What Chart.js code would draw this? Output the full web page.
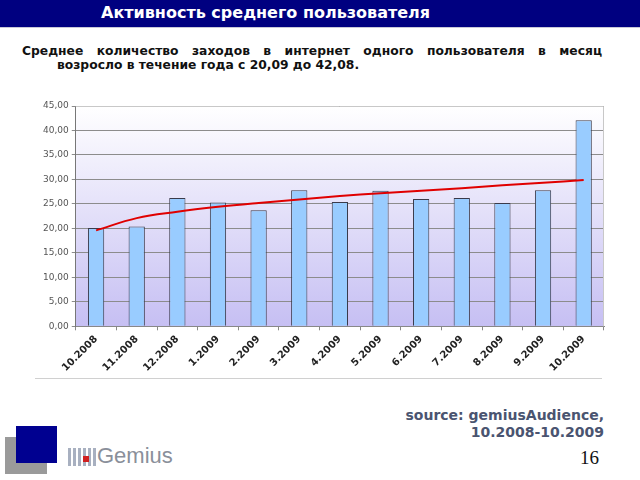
<!DOCTYPE html>
<html>
<head>
<meta charset="utf-8">
<script src="https://cdn.jsdelivr.net/npm/chart.js@4"></script>
<style>
  body { margin: 0; width: 640px; height: 480px; background: #fff; position: relative; overflow: hidden; font-family: "DejaVu Sans", Verdana, sans-serif; }
  #header { position: absolute; left: 0; top: 0; width: 640px; height: 27px; background: #000080; border-bottom: 1px solid #c8c8d8; }
  #header span { position: absolute; left: 101px; top: 3px; color: #fff; font-weight: bold; font-size: 16px; }
  #sub { position: absolute; left: 22px; top: 44px; width: 580px; font-size: 12.3px; font-weight: bold; color: #111; line-height: 15px; text-align: justify; text-align-last: justify; }
  #sub2 { position: absolute; left: 57px; top: 58px; font-size: 12.3px; font-weight: bold; color: #111; }
  #wrap { position: absolute; left: 30px; top: 92px; width: 580px; height: 285px; }
  #line { position: absolute; left: 35px; top: 378px; width: 567px; height: 1px; background: #d0d0d0; }
  #src { position: absolute; right: 36px; top: 407px; text-align: right; font-size: 14px; font-weight: bold; color: #4a5470; line-height: 17px; }
  #page { position: absolute; left: 580px; top: 447px; font-family: "Liberation Serif", serif; font-size: 19px; color: #111; }
  #sq1 { position: absolute; left: 5px; top: 437px; width: 42px; height: 37px; background: #9a9a9a; }
  #sq2 { position: absolute; left: 16px; top: 426px; width: 41px; height: 37px; background: #000090; }
  #logo { position: absolute; left: 97px; top: 443px; font-family: "Liberation Sans", Arial, sans-serif; font-size: 22px; color: #8a8f9a; }
  #dots { position: absolute; left: 68px; top: 448px; width: 28px; height: 18px; background: repeating-linear-gradient(90deg, #a8b0c0 0 3px, #fff 3px 5px); }
  #dots i { position: absolute; left: 15px; top: 8px; width: 6px; height: 6px; background: #d02020; }
</style>
</head>
<body>
<div id="header"><span>Активность среднего пользователя</span></div>
<div id="sub">Среднее количество заходов в интернет одного пользователя в месяц</div>
<div id="sub2">возросло в течение года с 20,09 до 42,08.</div>
<div id="wrap"><canvas id="myChart"></canvas></div>
<div id="line"></div>
<div id="src">source: gemiusAudience,<br>10.2008-10.2009</div>
<div id="page">16</div>
<div id="sq1"></div>
<div id="sq2"></div>
<div id="dots"><i></i></div>
<div id="logo">Gemius</div>

<script>
// Месяцы
const meses = ['10.2008', '11.2008', '12.2008', '1.2009', '2.2009', '3.2009', '4.2009',
               '5.2009', '6.2009', '7.2009', '8.2009', '9.2009', '10.2009'];

// Среднее количество заходов
const valores = [20.09, 20.4, 26.2, 25.3, 23.7, 27.8, 25.4, 27.7, 26.0, 26.2, 25.2, 27.8, 42.08];

// Линия тренда
const tendencia = [19.6, 22.1, 23.4, 24.4, 25.2, 25.9, 26.6, 27.2, 27.7, 28.2, 28.8, 29.3, 29.9];

// Подписи оси Y
const yTicks = [0, 5, 10, 15, 20, 25, 30, 35, 40, 45];

// Фон области графика: градиент и рамка
const fundo = {
    id: 'fundo',
    beforeDraw(chart) {
        const a = chart.chartArea;
        const c = chart.ctx;
        const g = c.createLinearGradient(0, a.top, 0, a.bottom);
        g.addColorStop(0, '#ffffff');
        g.addColorStop(1, '#c6bff3');
        c.save();
        c.fillStyle = g;
        c.fillRect(a.left, a.top, a.right - a.left, a.bottom - a.top);
        c.restore();
    },
    afterDraw(chart) {
        const a = chart.chartArea;
        const c = chart.ctx;
        c.save();
        c.strokeStyle = '#c8c8c8';
        c.lineWidth = 1;
        c.beginPath();
        c.moveTo(a.left, a.top + 0.5);
        c.lineTo(a.right - 0.5, a.top + 0.5);
        c.lineTo(a.right - 0.5, a.bottom);
        c.stroke();
        c.restore();
    }
};

var ctx = document.getElementById('myChart');
var myChart = new Chart(ctx, {
    data: {
        labels: meses,
        datasets: [{
            type: 'line',
            data: tendencia,
            borderColor: '#e00000',
            borderWidth: 2,
            pointRadius: 0,
            tension: 0.4,
            order: 0
        }, {
            type: 'bar',
            data: valores,
            backgroundColor: '#99ccff',
            borderColor: '#3a3a4a',
            borderWidth: 1,
            barPercentage: 0.4,
            categoryPercentage: 1,
            order: 1
        }]
    },
    options: {
        responsive: true,
        maintainAspectRatio: false,
        animation: false,
        layout: { padding: { top: 14, right: 6, left: 10, bottom: 0 } },
        plugins: { legend: { display: false }, tooltip: { enabled: false } },
        scales: {
            x: {
                offset: true,
                grid: { display: true, drawOnChartArea: false, tickLength: 4, color: '#888', offset: true },
                border: { color: '#888' },
                ticks: {
                    maxRotation: 45, minRotation: 45, autoSkip: false,
                    color: '#222',
                    font: { family: 'DejaVu Sans', size: 10, weight: 'bold' }
                }
            },
            y: {
                min: 0, max: 45,
                afterBuildTicks: axis => { axis.ticks = yTicks.map(v => ({ value: v })); },
                grid: { color: '#8c8c8c', tickLength: 4 },
                border: { color: '#777' },
                ticks: {
                    color: '#555',
                    font: { family: 'DejaVu Sans', size: 9 },
                    callback: v => v.toFixed(2).replace('.', ',')
                }
            }
        }
    },
    plugins: [fundo]
});
</script>
</body>
</html>
